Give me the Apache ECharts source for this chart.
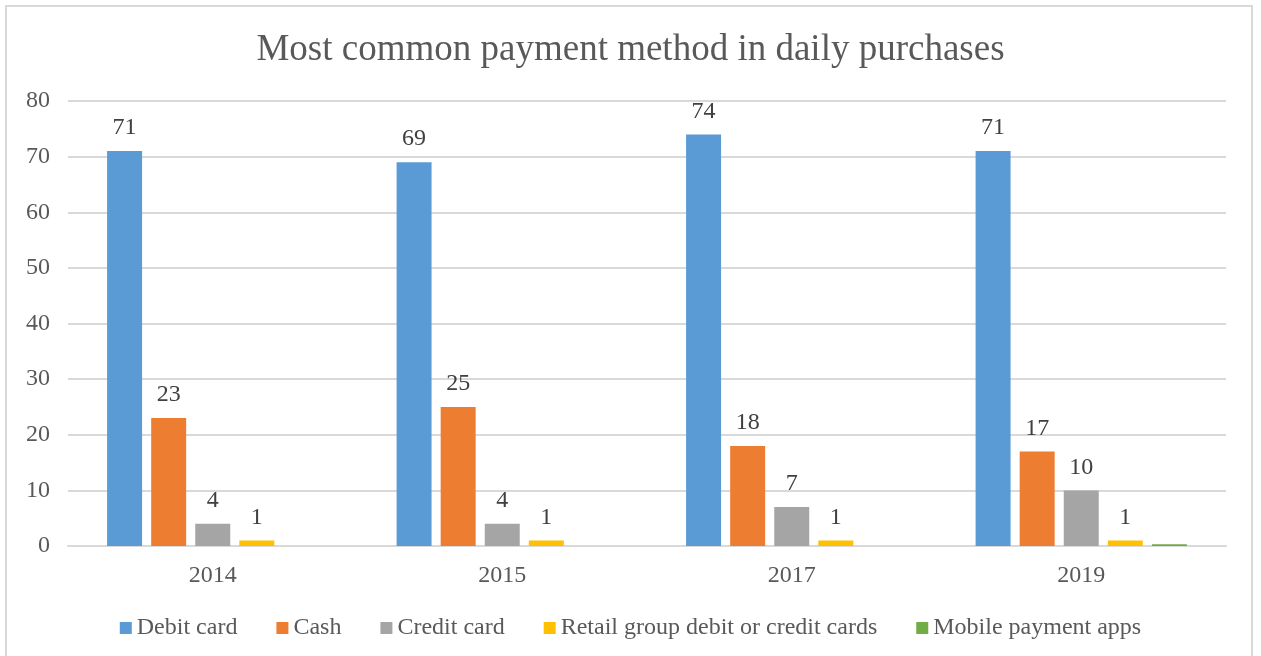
<!DOCTYPE html>
<html>
<head>
<meta charset="utf-8">
<script src="https://cdn.jsdelivr.net/npm/echarts@6/dist/echarts.min.js"></script>
<style>
  html, body { margin: 0; padding: 0; background: #fff; }
  #frame { position: absolute; left: 5px; top: 5px; width: 1248px; height: 660px; border: 2px solid #d9d9d9; box-sizing: border-box; }
  #chart { position: absolute; left: 0; top: 0; width: 1261px; height: 656px; }
</style>
</head>
<body>
<div id="frame"></div>
<div id="chart"></div>
<script>
const years = ['2014', '2015', '2017', '2019'];
const debitCard = [71, 69, 74, 71];
const cash = [23, 25, 18, 17];
const creditCard = [4, 4, 7, 10];
const retailCards = [1, 1, 1, 1];
const mobileApps = [null, null, null, 0.3];
const yTicks = { min: 0, max: 80, interval: 10 };

const serif = '"Liberation Serif", "Times New Roman", serif';
const labelStyle = { show: true, position: 'top', distance: 11, fontFamily: serif, fontSize: 24, color: '#404040' };

function bar(name, data, color, showLabel) {
  return {
    name: name, type: 'bar', data: data,
    barGap: '26%', barCategoryGap: '27%',
    itemStyle: { color: color },
    label: showLabel ? labelStyle : { show: false }
  };
}

const chart = echarts.init(document.getElementById('chart'), null, { renderer: 'canvas' });
chart.setOption({
  animation: false,
  title: {
    text: 'Most common payment method in daily purchases',
    left: 'center', top: 27,
    textStyle: { fontFamily: serif, fontSize: 37, fontWeight: 'normal', color: '#595959' }
  },
  legend: {
    bottom: 11, left: 'center',
    itemWidth: 12, itemHeight: 12, itemGap: 39, icon: 'rect',
    textStyle: { fontFamily: serif, fontSize: 24, color: '#595959' },
    data: ['Debit card', 'Cash', 'Credit card', 'Retail group debit or credit cards', 'Mobile payment apps']
  },
  grid: { left: 68, right: 35, top: 101, bottom: 110, containLabel: false },
  xAxis: {
    type: 'category', data: years,
    axisLine: { lineStyle: { color: '#d9d9d9', width: 2 } },
    axisTick: { show: false },
    axisLabel: { fontFamily: serif, fontSize: 24, color: '#595959', margin: 18 }
  },
  yAxis: {
    type: 'value', min: yTicks.min, max: yTicks.max, interval: yTicks.interval,
    axisLine: { show: false }, axisTick: { show: false },
    splitLine: { lineStyle: { color: '#d9d9d9', width: 2 } },
    axisLabel: { fontFamily: serif, fontSize: 24, color: '#595959', margin: 18 }
  },
  series: [
    bar('Debit card', debitCard, '#5b9bd5', true),
    bar('Cash', cash, '#ed7d31', true),
    bar('Credit card', creditCard, '#a5a5a5', true),
    bar('Retail group debit or credit cards', retailCards, '#ffc000', true),
    bar('Mobile payment apps', mobileApps, '#70ad47', false)
  ]
});
</script>
</body>
</html>
